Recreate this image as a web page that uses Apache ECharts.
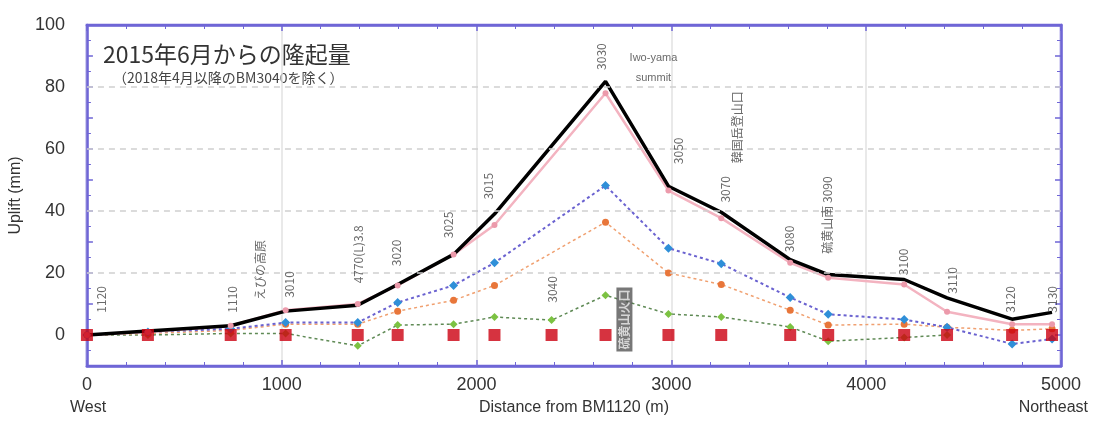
<!DOCTYPE html>
<html><head><meta charset="utf-8">
<script src="https://cdn.jsdelivr.net/npm/echarts@6/dist/echarts.min.js"></script>
<style>html,body{margin:0;padding:0;background:#fff}#c{width:1098px;height:421px}</style>
</head><body><div id="c"></div>
<script>
// Distance of each benchmark from BM1120 (m)
const stations = [0, 313, 738, 1020, 1390, 1595, 1882, 2092, 2385, 2662, 2985, 3256, 3610, 3805, 4195, 4415, 4749, 4954];
// Uplift since June 2015 (mm), several surveys
const seriesBlack  = [0, 1.3, 3, 7.7, 9.6, 16.3, 26, 39, null, 81.8, 48, 39.6, 24.3, 19.5, 17.9, 12, 5.1, 7.3];
const seriesPink   = [0, 1, 3, 8, 10, 16, 26, 35.5, null, 78, 46.6, 37.7, 23.3, 18.5, 16.3, 7.5, 3.5, 3.5];
const seriesBlue   = [0, 1, 2, 4, 4, 10.5, 16, 23.3, null, 48.2, 28, 23, 12.1, 6.7, 5, 2.5, -2.9, -1.3];
const seriesOrange = [0, 0.5, 1.5, 3.5, 3.5, 7.7, 11.2, 16, null, 36.4, 20, 16.3, 8, 3.2, 3.5, 2.5, 1.5, 2];
const seriesGreen  = [0, 0, 0.5, 0.5, -3.5, 3.2, 3.5, 5.8, 4.8, 12.8, 6.8, 5.8, 2.6, -2, -0.8, 0, null, null];
const seriesBase   = [0, 0, 0, 0, 0, 0, 0, 0, 0, 0, 0, 0, 0, 0, 0, 0, 0, 0];
// Axis ticks
const xTicks = [0, 1000, 2000, 3000, 4000, 5000];
const yTickLabels = [0, 20, 40, 60, 80, 100];
const gridValues = [20, 40, 60, 80];
// Benchmark annotations: text, anchor distance (m), anchor height (mm)
const annText = ['1120', '1110', 'えびの高原', '3010', '4770(L)3.8', '3020', '3025', '3015', '3040', '3030', '硫黄山火口', '3050', '韓国岳登山口', '3070', '3080', '硫黄山南 3090', '3100', '3110', '3120', '3130'];
const annX    = [72, 749, 892, 1041, 1395, 1590, 1856, 2062, 2390, 2641, 2759, 3036, 3338, 3277, 3605, 3800, 4190, 4441, 4738, 4954];
const annY    = [11.5, 11.5, 21, 16.3, 26, 26.5, 35.5, 48, 14.7, 89.8, 5, 59.4, 67, 47, 31, 38.7, 23.6, 17.6, 11.5, 11.5];
const annDark = [false, false, false, false, false, false, false, false, false, false, true, false, false, false, false, false, false, false, false, false];
const summitText = ['Iwo-yama', 'summit'];
const summitX = [2908, 2908];
const summitY = [89.5, 83];

const purple = '#6f66d6';
const chart = echarts.init(document.getElementById('c'));
const pts = arr => stations.map((s, i) => [s, arr[i]]);

const annData = annText.map((t, i) => ({
  value: [annX[i], annY[i]],
  label: annDark[i]
    ? { formatter: t, color: '#eee', backgroundColor: '#555', padding: [2, 2], fontWeight: 'bold' }
    : { formatter: t }
}));

const axisCommon = {
  axisLine: { show: true, onZero: false, lineStyle: { color: purple, width: 2.5 } },
  axisTick: { inside: true, length: 6, lineStyle: { color: purple, width: 1.5 } }
};

chart.setOption({
  backgroundColor: '#fff',
  animation: false,
  grid: { left: 86, right: 37, top: 25, bottom: 52, show: true, borderColor: purple, borderWidth: 2.5, backgroundColor: '#fff' },
  xAxis: [Object.assign({
    type: 'value', min: xTicks[0], max: xTicks[xTicks.length - 1], interval: 1000, position: 'bottom',
    minorTick: { show: true, splitNumber: 5, length: 4, lineStyle: { color: purple } },
    splitLine: { show: true, lineStyle: { color: '#e2e2e2', width: 1.5 } },
    axisLabel: { fontSize: 18, color: '#333', margin: 10, fontFamily: 'Liberation Sans', formatter: v => String(v) },
    name: 'Distance from BM1120 (m)', nameLocation: 'middle', nameGap: 34,
    nameTextStyle: { fontSize: 16, color: '#333', fontFamily: 'Liberation Sans' }
  }, axisCommon), Object.assign({
    type: 'value', min: xTicks[0], max: xTicks[xTicks.length - 1], interval: 1000, position: 'top',
    minorTick: { show: true, splitNumber: 5, length: 4, lineStyle: { color: purple } },
    splitLine: { show: false }, axisLabel: { show: false }
  }, axisCommon)],
  yAxis: [Object.assign({
    type: 'value', min: -10, max: 100, interval: 10, position: 'left',
    minorTick: { show: true, splitNumber: 2, length: 4, lineStyle: { color: purple } },
    splitLine: { show: false },
    axisLabel: { fontSize: 18, color: '#333', margin: 22, fontFamily: 'Liberation Sans',
      formatter: v => yTickLabels.indexOf(v) >= 0 ? String(v) : '' },
    name: 'Uplift (mm)', nameLocation: 'middle', nameGap: 60,
    nameTextStyle: { fontSize: 16, color: '#333', fontFamily: 'Liberation Sans' }
  }, axisCommon), Object.assign({
    type: 'value', min: -10, max: 100, interval: 10, position: 'right',
    minorTick: { show: true, splitNumber: 2, length: 4, lineStyle: { color: purple } },
    splitLine: { show: false }, axisLabel: { show: false }
  }, axisCommon)],
  graphic: [
    { type: 'text', left: 103, top: 43, style: { text: '2015年6月からの隆起量', fontSize: 23, fill: '#333', fontFamily: 'Noto Sans CJK JP' } },
    { type: 'text', left: 113, top: 71, style: { text: '（2018年4月以降のBM3040を除く）', fontSize: 14, fill: '#444', fontFamily: 'Noto Sans CJK JP' } },
    { type: 'text', left: 70, top: 400, style: { text: 'West', fontSize: 16, fill: '#333', fontFamily: 'Liberation Sans' } },
    { type: 'text', right: 10, top: 400, style: { text: 'Northeast', fontSize: 16, fill: '#333', fontFamily: 'Liberation Sans' } }
  ],
  series: [
    { type: 'line', data: [], markLine: { silent: true, symbol: 'none', label: { show: false },
        lineStyle: { color: '#cfcfcf', type: [6, 5], width: 1.5 },
        data: gridValues.map(v => ({ yAxis: v })) } },
    { name: 'green', type: 'line', data: pts(seriesGreen), connectNulls: true,
      lineStyle: { color: '#5f8a55', width: 1.5, type: [3, 3] },
      symbol: 'diamond', symbolSize: 8, itemStyle: { color: '#7cc242' } },
    { name: 'orange', type: 'line', data: pts(seriesOrange), connectNulls: true,
      lineStyle: { color: '#f0a070', width: 1.5, type: [3, 3] },
      symbol: 'circle', symbolSize: 7, itemStyle: { color: '#e8763a' } },
    { name: 'blue', type: 'line', data: pts(seriesBlue), connectNulls: true,
      lineStyle: { color: '#6a62d0', width: 2, type: [3, 3] },
      symbol: 'diamond', symbolSize: 9, itemStyle: { color: '#2f8fd8' } },
    { name: 'pink', type: 'line', data: pts(seriesPink), connectNulls: true,
      lineStyle: { color: '#f3b3c0', width: 2.5 },
      symbol: 'circle', symbolSize: 6, itemStyle: { color: '#ec9aab' } },
    { name: 'black', type: 'line', data: pts(seriesBlack), connectNulls: true,
      lineStyle: { color: '#000', width: 3.5 }, showSymbol: false, symbol: 'none' },
    { name: 'base', type: 'scatter', data: pts(seriesBase),
      symbol: 'rect', symbolSize: 12, itemStyle: { color: '#cc0010' }, z: 5 },
    { type: 'scatter', data: annData, symbol: 'circle', symbolSize: 1, itemStyle: { color: 'rgba(0,0,0,0)' }, silent: true, z: 6,
      label: { show: true, position: 'inside', rotate: 90, fontSize: 12, color: '#444', fontFamily: 'Noto Sans CJK JP' } },
    { type: 'scatter', data: summitText.map((t, i) => ({ value: [summitX[i], summitY[i]], label: { formatter: t } })),
      symbol: 'circle', symbolSize: 1, itemStyle: { color: 'rgba(0,0,0,0)' }, silent: true, z: 6,
      label: { show: true, position: 'inside', fontSize: 11, color: '#444', fontFamily: 'Liberation Sans' } }
  ]
});
</script></body></html>
